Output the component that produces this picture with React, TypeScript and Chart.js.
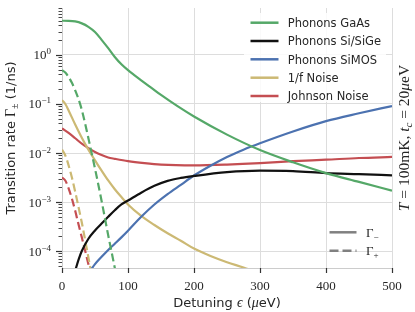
import React, { useEffect, useRef } from 'react';
import { Chart, registerables } from 'chart.js';

Chart.register(...registerables);

// ---------- data (detuning in µeV, rates in 1/ns) ----------
const gaasEps = [0, 10, 20, 30, 40, 50, 60, 70, 80, 90, 100, 110, 120, 135, 150, 175, 200, 250, 300, 350, 400, 450, 500];
const gaasMinus = [5.0, 4.98, 4.84, 4.42, 3.76, 2.95, 2.04, 1.38, 0.912, 0.646, 0.49, 0.385, 0.305, 0.216, 0.153, 0.0902, 0.0556, 0.0237, 0.01148, 0.00646, 0.00389, 0.00257, 0.0017];

const gaasPlusEps = [0, 5, 10, 15, 20, 25, 30, 35, 40, 50, 60, 70, 80, 85];
const gaasPlus = [0.49, 0.44, 0.355, 0.27, 0.19, 0.126, 0.076, 0.04, 0.02, 0.0048, 0.00105, 0.00021, 0.000045, 0.00002];

const siGeEps = [20, 25, 30, 40, 50, 60, 70, 80, 90, 100, 120, 140, 160, 180, 200, 250, 300, 350, 400, 450, 500];
const siGeMinus = [3.98e-5, 6.6e-5, 1.0e-4, 1.78e-4, 2.63e-4, 3.63e-4, 5.0e-4, 6.8e-4, 8.9e-4, 1.07e-3, 1.55e-3, 2.14e-3, 2.7e-3, 3.1e-3, 3.4e-3, 4.07e-3, 4.37e-3, 4.27e-3, 3.9e-3, 3.7e-3, 3.5e-3];

const simosEps = [40, 50, 60, 70, 80, 90, 100, 120, 140, 160, 180, 200, 225, 250, 275, 300, 350, 400, 450, 500];
const simosMinus = [3.5e-5, 5.4e-5, 7.6e-5, 1.05e-4, 1.41e-4, 1.9e-4, 2.6e-4, 5.0e-4, 8.9e-4, 1.45e-3, 2.24e-3, 3.47e-3, 5.5e-3, 8.3e-3, 0.0117, 0.0158, 0.0275, 0.0447, 0.0646, 0.091];

const noiseEps = [0, 5, 10, 20, 30, 40, 50, 60, 70, 80, 90, 100, 120, 140, 160, 180, 200, 225, 250, 275, 300];
const noiseMinus = [0.12, 0.1, 0.074, 0.038, 0.0204, 0.0117, 0.0071, 0.00437, 0.00275, 0.00182, 0.00126, 8.9e-4, 5.2e-4, 3.4e-4, 2.3e-4, 1.62e-4, 1.12e-4, 7.9e-5, 5.9e-5, 4.6e-5, 3.5e-5];

const noisePlusEps = [0, 5, 10, 15, 20, 25, 30, 35, 40, 45];
const noisePlus = [0.0117, 8.9e-3, 5.6e-3, 3.16e-3, 1.62e-3, 7.9e-4, 3.8e-4, 1.7e-4, 7.4e-5, 3.2e-5];

const johnsonEps = [0, 10, 20, 30, 40, 50, 60, 70, 80, 100, 125, 150, 200, 250, 300, 350, 400, 450, 500];
const johnsonMinus = [0.0316, 0.0257, 0.02, 0.0155, 0.0126, 0.0105, 0.0091, 0.0081, 0.0076, 0.0068, 0.0062, 0.0058, 0.0056, 0.0058, 0.0062, 0.0068, 0.0073, 0.0079, 0.0083];

const johnsonPlusEps = [0, 5, 10, 15, 20, 25, 30, 35, 40, 45];
const johnsonPlus = [3.16e-3, 2.75e-3, 1.9e-3, 1.17e-3, 6.6e-4, 3.5e-4, 1.9e-4, 1.02e-4, 5.4e-5, 2.8e-5];

const legendLabels = ['Phonons GaAs', 'Phonons Si/SiGe', 'Phonons SiMOS', '1/f Noise', 'Johnson Noise'];
const seriesColors = ['#55a868', '#111111', '#4c72b0', '#ccb974', '#c44e52'];

const xTicks = [0, 100, 200, 300, 400, 500];
const yExponents = [-4, -3, -2, -1, 0];
const X_MIN = 0;
const X_MAX = 500;
const Y_MIN = 4.5e-5;
const Y_MAX = 9.1;

// ---------- helpers ----------
const SANS = '"DejaVu Sans", sans-serif';
const SERIF = '"Liberation Serif", serif';
const TXT = '#262626';

const isMajor = (v: number) => Math.abs(Math.log10(v) - Math.round(Math.log10(v))) < 1e-9;

const yTickValues: number[] = (() => {
  const out: number[] = [];
  for (let e = -5; e <= 1; e++) {
    for (let m = 1; m <= 9; m++) {
      const v = Number(`${m}e${e}`);
      if (v >= Y_MIN && v <= Y_MAX) out.push(v);
    }
  }
  return out;
})();

type Run = { t: string; f: string; dy?: number };

function runsWidth(ctx: CanvasRenderingContext2D, runs: Run[]) {
  let w = 0;
  for (const r of runs) {
    ctx.font = r.f;
    w += ctx.measureText(r.t).width;
  }
  return w;
}

function drawRuns(ctx: CanvasRenderingContext2D, runs: Run[], x: number, y: number, align: 'left' | 'center' | 'right') {
  const w = runsWidth(ctx, runs);
  let cx = align === 'left' ? x : align === 'center' ? x - w / 2 : x - w;
  ctx.textAlign = 'left';
  ctx.textBaseline = 'alphabetic';
  for (const r of runs) {
    ctx.font = r.f;
    ctx.fillText(r.t, cx, y + (r.dy || 0));
    cx += ctx.measureText(r.t).width;
  }
}

const decorPlugin = {
  id: 'decor',
  afterDraw(chart: any) {
    const { ctx, chartArea: ca } = chart;
    const xs = chart.scales.x;
    const ys = chart.scales.y;
    ctx.save();

    // y tick marks
    ctx.strokeStyle = '#333333';
    for (const v of yTickValues) {
      const py = Math.round(ys.getPixelForValue(v)) + 0.5;
      const maj = isMajor(v);
      ctx.lineWidth = maj ? 1.2 : 0.9;
      ctx.beginPath();
      ctx.moveTo(ca.left - (maj ? 6 : 3.5), py);
      ctx.lineTo(ca.left, py);
      ctx.stroke();
    }
    // x tick marks
    ctx.lineWidth = 1.2;
    for (const v of xTicks) {
      const px = Math.round(xs.getPixelForValue(v)) + 0.5;
      ctx.beginPath();
      ctx.moveTo(px, ca.bottom);
      ctx.lineTo(px, ca.bottom + 5);
      ctx.stroke();
    }

    ctx.fillStyle = TXT;
    // y tick labels
    for (const e of yExponents) {
      const py = ys.getPixelForValue(Math.pow(10, e));
      drawRuns(ctx, [
        { t: '10', f: `13px ${SERIF}` },
        { t: e === 0 ? '0' : '\u2212' + String(-e), f: `9px ${SERIF}`, dy: -5 },
      ], ca.left - 11, py + 4.5, 'right');
    }
    // x tick labels
    ctx.font = `13px ${SERIF}`;
    ctx.textAlign = 'center';
    ctx.textBaseline = 'alphabetic';
    for (const v of xTicks) {
      ctx.fillText(String(v), xs.getPixelForValue(v), ca.bottom + 21.5);
    }

    // x title
    drawRuns(ctx, [
      { t: 'Detuning ', f: `13px ${SANS}` },
      { t: '\u03f5', f: `italic 14px ${SERIF}` },
      { t: ' (', f: `13px ${SANS}` },
      { t: '\u03bc', f: `italic 14px ${SERIF}` },
      { t: 'eV)', f: `13px ${SANS}` },
    ], (ca.left + ca.right) / 2, 306.5, 'center');

    // y title (rotated)
    ctx.save();
    ctx.translate(15, (ca.top + ca.bottom) / 2);
    ctx.rotate(-Math.PI / 2);
    drawRuns(ctx, [
      { t: 'Transition rate ', f: `13px ${SANS}` },
      { t: '\u0393', f: `14px ${SERIF}` },
      { t: '\u00b1', f: `10px ${SERIF}`, dy: 3 },
      { t: ' (1/ns)', f: `13px ${SANS}` },
    ], 0, 0, 'center');
    ctx.restore();

    // right label (rotated)
    ctx.save();
    ctx.translate(409, (ca.top + ca.bottom) / 2);
    ctx.rotate(-Math.PI / 2);
    drawRuns(ctx, [
      { t: 'T', f: `italic 15.5px ${SERIF}` },
      { t: ' = 100mK, ', f: `15.5px ${SERIF}` },
      { t: 't', f: `italic 15.5px ${SERIF}` },
      { t: 'c', f: `italic 11px ${SERIF}`, dy: 3 },
      { t: ' = 20', f: `15.5px ${SERIF}` },
      { t: '\u03bc', f: `italic 15.5px ${SERIF}` },
      { t: 'eV', f: `15.5px ${SERIF}` },
    ], 0, 0, 'center');
    ctx.restore();

    // main legend
    ctx.fillStyle = 'rgba(255,255,255,0.85)';
    ctx.fillRect(244, 13, 142, 89);
    const rowY = [22.7, 41, 59.3, 77.7, 96];
    legendLabels.forEach((lab, i) => {
      ctx.strokeStyle = seriesColors[i];
      ctx.lineWidth = 2.5;
      ctx.setLineDash([]);
      ctx.beginPath();
      ctx.moveTo(250.5, rowY[i]);
      ctx.lineTo(278.5, rowY[i]);
      ctx.stroke();
      ctx.fillStyle = TXT;
      ctx.font = `11.5px ${SANS}`;
      ctx.textAlign = 'left';
      ctx.textBaseline = 'alphabetic';
      ctx.fillText(lab, 287.7, rowY[i] + 4.2);
    });

    // line style legend
    ctx.strokeStyle = '#808080';
    ctx.lineWidth = 2.5;
    ctx.beginPath();
    ctx.moveTo(329.5, 232.3);
    ctx.lineTo(356.5, 232.3);
    ctx.stroke();
    ctx.setLineDash([9, 4]);
    ctx.beginPath();
    ctx.moveTo(329.5, 250.7);
    ctx.lineTo(356.5, 250.7);
    ctx.stroke();
    ctx.setLineDash([]);
    ctx.fillStyle = TXT;
    drawRuns(ctx, [
      { t: '\u0393', f: `13px ${SERIF}` },
      { t: '\u2212', f: `9px ${SERIF}`, dy: 3 },
    ], 366, 236.8, 'left');
    drawRuns(ctx, [
      { t: '\u0393', f: `13px ${SERIF}` },
      { t: '+', f: `9px ${SERIF}`, dy: 3 },
    ], 366, 255.2, 'left');

    ctx.restore();
  },
};

type Series = { xs: number[]; ys: number[]; color: string; dashed: boolean };

const seriesList: Series[] = [
  { xs: gaasEps, ys: gaasMinus, color: seriesColors[0], dashed: false },
  { xs: gaasPlusEps, ys: gaasPlus, color: seriesColors[0], dashed: true },
  { xs: siGeEps, ys: siGeMinus, color: seriesColors[1], dashed: false },
  { xs: simosEps, ys: simosMinus, color: seriesColors[2], dashed: false },
  { xs: noiseEps, ys: noiseMinus, color: seriesColors[3], dashed: false },
  { xs: noisePlusEps, ys: noisePlus, color: seriesColors[3], dashed: true },
  { xs: johnsonEps, ys: johnsonMinus, color: seriesColors[4], dashed: false },
  { xs: johnsonPlusEps, ys: johnsonPlus, color: seriesColors[4], dashed: true },
];

export default function App() {
  const canvasRef = useRef<HTMLCanvasElement | null>(null);

  useEffect(() => {
    const canvas = canvasRef.current;
    if (!canvas) return;
    const chart = new Chart(canvas, {
      type: 'line',
      data: {
        datasets: seriesList.map((s) => ({
          data: s.xs.map((x, i) => ({ x, y: s.ys[i] })),
          borderColor: s.color,
          backgroundColor: s.color,
          borderWidth: 2.2,
          borderDash: s.dashed ? [8, 4] : [],
          pointRadius: 0,
          fill: false,
          cubicInterpolationMode: 'monotone',
          clip: { left: 0, top: 0, right: 0, bottom: 0 },
        })),
      },
      options: {
        responsive: false,
        animation: false,
        events: [],
        layout: { padding: { left: 62, right: 23, top: 8, bottom: 44 } },
        plugins: { legend: { display: false }, tooltip: { enabled: false } },
        scales: {
          x: {
            type: 'linear',
            min: X_MIN,
            max: X_MAX,
            afterBuildTicks: (s: any) => {
              s.ticks = xTicks.map((v) => ({ value: v }));
            },
            afterFit: (s: any) => {
              s.height = 0;
            },
            ticks: { display: false },
            grid: { color: '#dddddd', lineWidth: 1, drawTicks: false },
            border: { display: true, color: '#cccccc', width: 1 },
          },
          y: {
            type: 'logarithmic',
            min: Y_MIN,
            max: Y_MAX,
            afterBuildTicks: (s: any) => {
              s.ticks = yTickValues.map((v) => ({ value: v, major: isMajor(v) }));
            },
            afterFit: (s: any) => {
              s.width = 0;
            },
            ticks: { display: false },
            grid: {
              color: (c: any) => (c.tick && isMajor(c.tick.value) ? '#dddddd' : 'rgba(0,0,0,0)'),
              lineWidth: 1,
              drawTicks: false,
            },
            border: { display: true, color: '#cccccc', width: 1 },
          },
        },
      } as any,
      plugins: [decorPlugin],
    });
    return () => chart.destroy();
  }, []);

  return (
    <div style={{ position: 'absolute', left: 0, top: 0, width: 415, height: 312, background: '#ffffff' }}>
      <canvas ref={canvasRef} width={415} height={312} style={{ display: 'block' }} />
    </div>
  );
}
